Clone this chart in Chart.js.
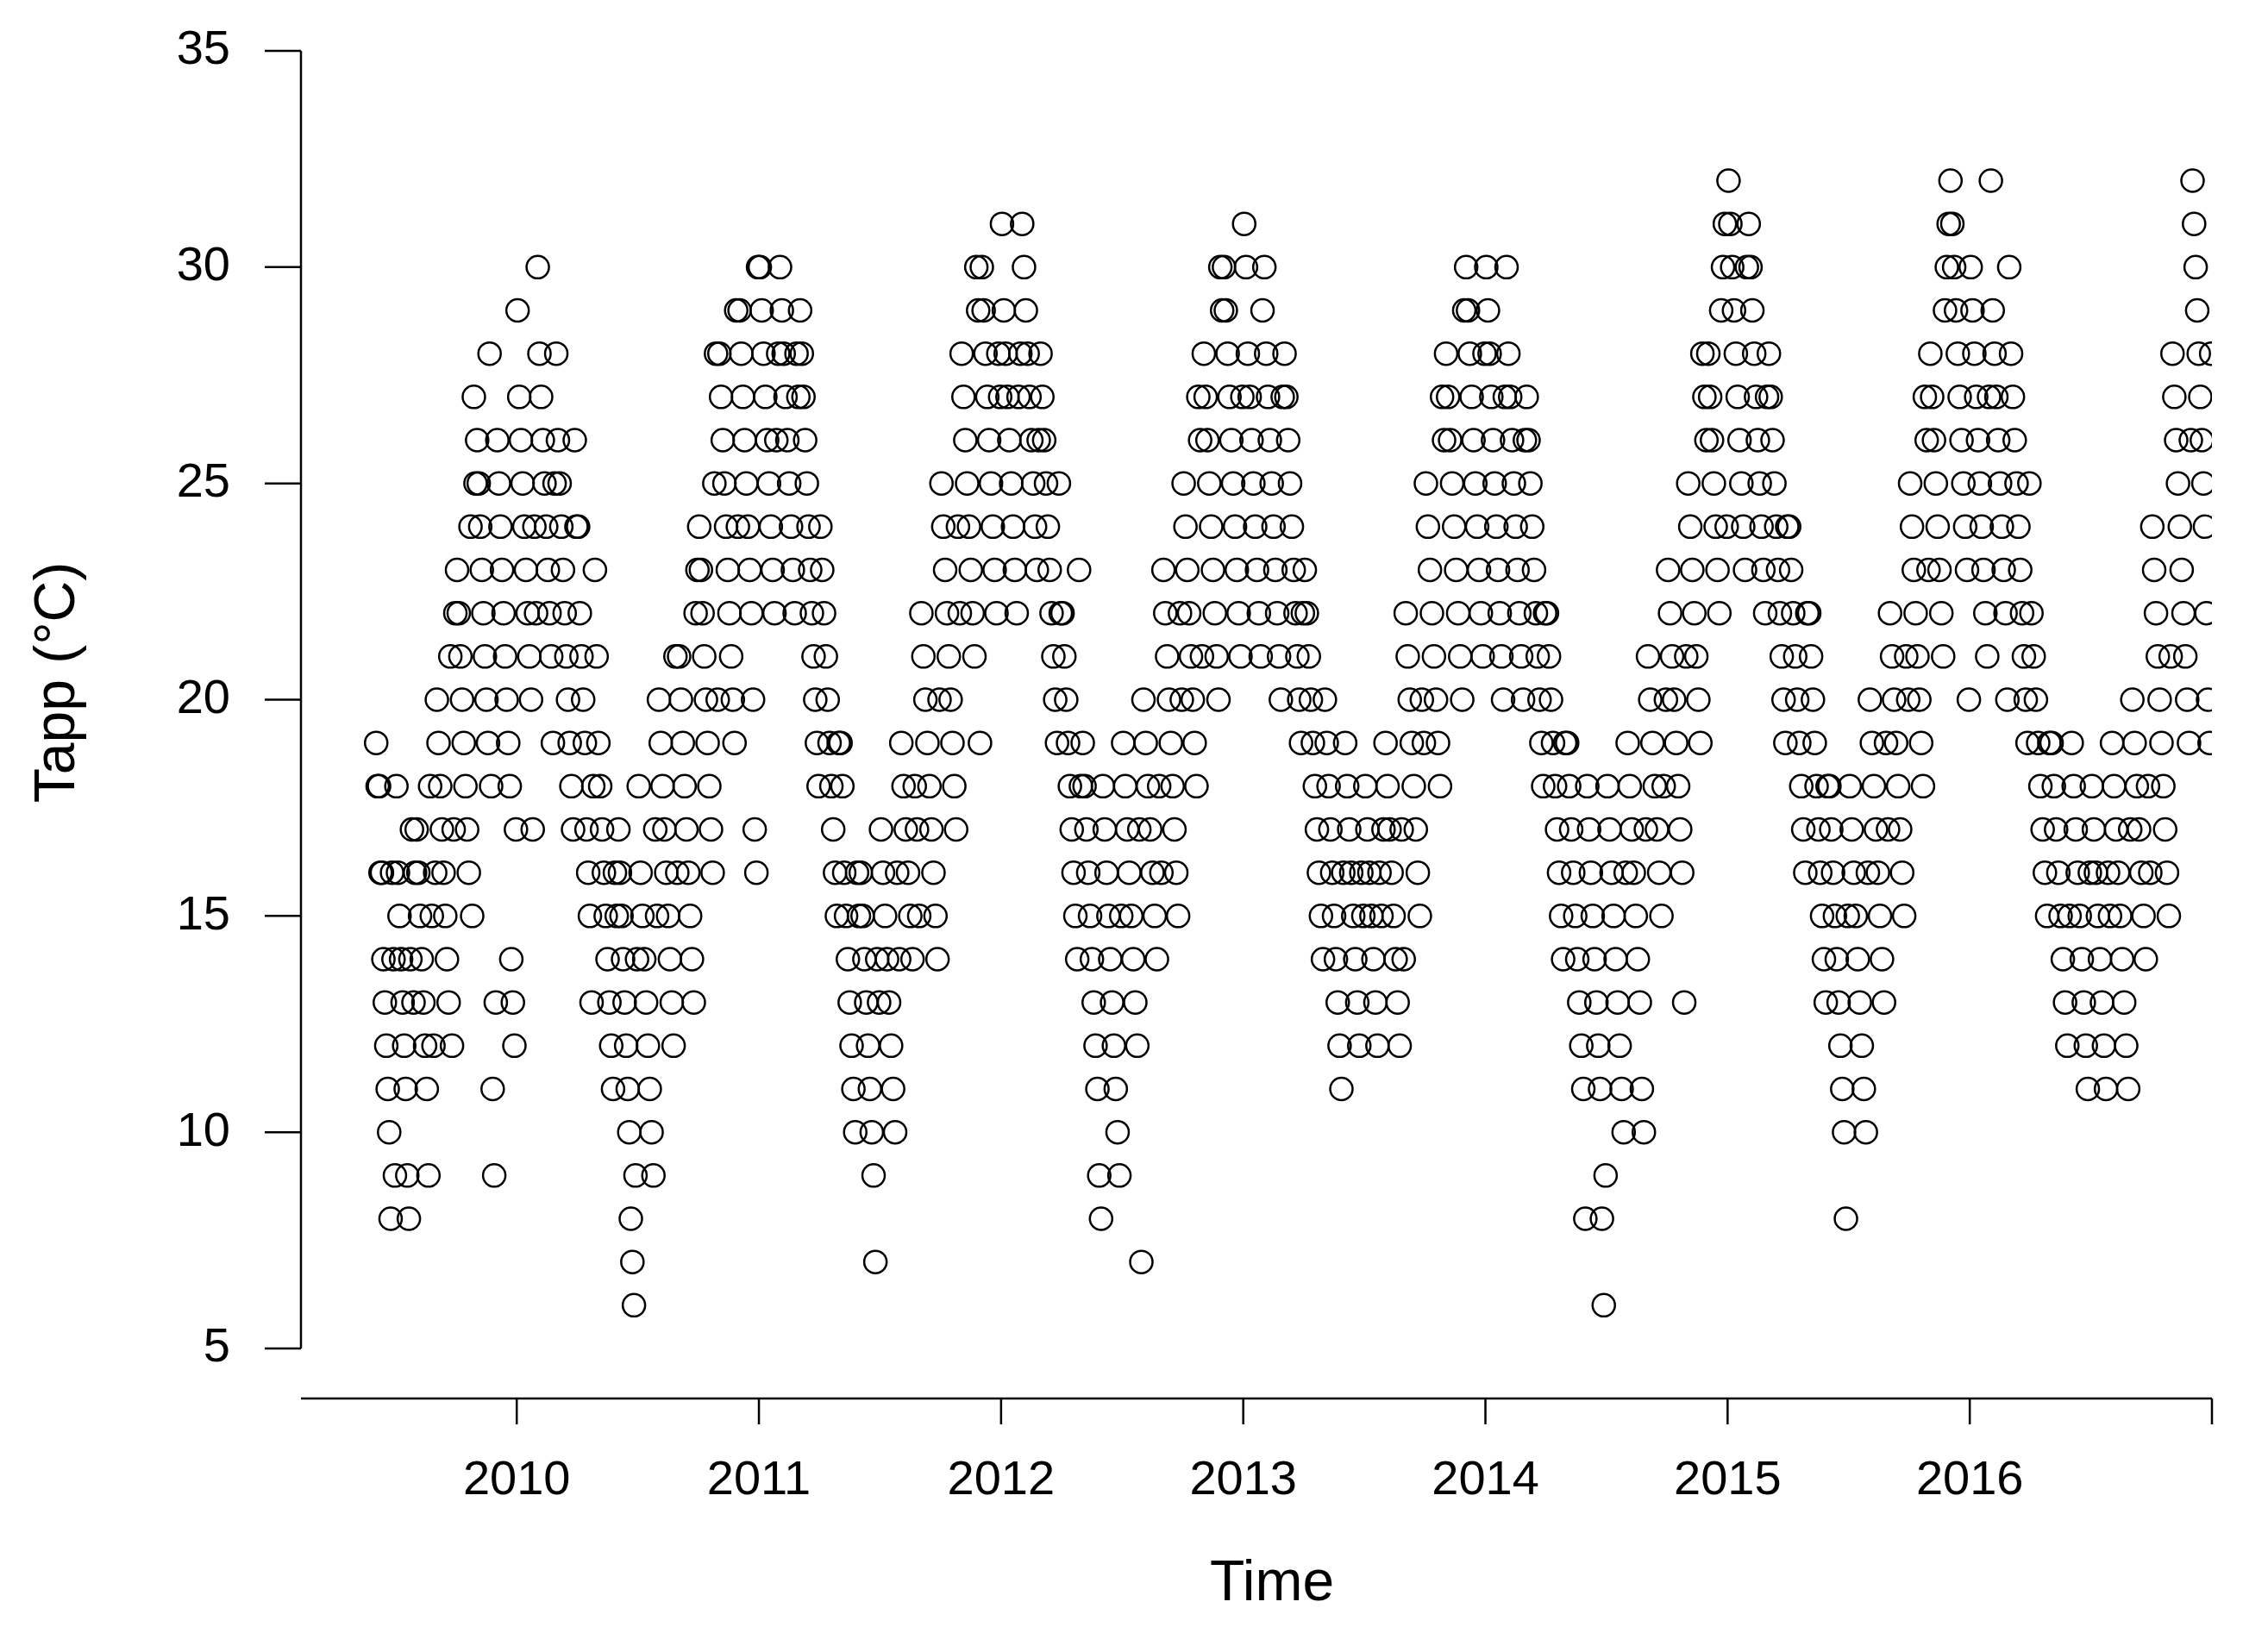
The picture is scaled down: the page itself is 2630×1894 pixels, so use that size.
<!DOCTYPE html>
<html><head><meta charset="utf-8">
<script src="https://cdn.jsdelivr.net/npm/chart.js@4/dist/chart.umd.min.js"></script>
<style>html,body{margin:0;padding:0;background:#fff}#c{display:block}</style>
</head><body>
<div style="width:2630px;height:1894px"><canvas id="c" width="2630" height="1894"></canvas></div>
<script>
// Observed Tapp values (°C), one string per month Jan..Dec ("" = no data)
const tapp2009 = ["","","","","",
"19 18 18 16 16 14 13 12 11 10 8 16 14 9",
"18 16 15 14 13 12 11 9 8 14 17 13 16",
"17 16 15 14 13 12 11 9 18 15 12 16",
"20 19 18 17 16 15 14 13 21 12 17 22",
"23 22 21 20 19 18 17 16 24 15 27 25",
"26 25 24 23 22 21 20 19 28 18 11 9 13",
"26 25 24 23 22 21 20 19 18 14 13 12 17"];
const tapp2010 = [
"29 27 26 25 24 23 22 21 20 17 24 22",
"30 28 27 26 25 24 23 22 21 19 25 28",
"26 25 24 23 22 21 20 19 18 17 26 24",
"24 22 21 20 19 17 16 15 13 18 23 21",
"19 18 17 16 15 14 13 12 11 16 15",
"17 16 15 14 13 12 11 10 8 7 6 9 14",
"18 16 15 14 13 12 11 10 9 17 15",
"20 19 18 17 16 15 14 13 12 21 16",
"21 20 19 18 17 16 15 14 13 22 23",
"24 23 22 21 20 19 18 17 16 25 28 20",
"28 27 26 25 24 23 22 21 20 19 29 24",
"29 28 27 26 25 24 23 22 20 17 16 30"];
const tapp2011 = [
"30 29 28 27 26 25 24 23 22 26 28",
"30 29 28 27 26 25 24 23 22 28 27",
"29 28 27 26 25 24 23 22 21 20 19 18",
"24 23 22 21 20 19 18 17 16 15 19",
"19 18 16 15 14 13 12 11 10 16 15",
"16 15 14 13 12 11 10 9 7 14 13",
"17 16 15 14 13 12 11 10 16 14",
"19 18 17 16 15 14 18 17 15",
"22 21 20 19 18 17 16 15 14 20",
"25 24 23 22 21 20 19 18 17 24 22",
"28 27 26 25 24 23 22 21 30 29 19",
"30 29 28 27 26 25 24 23 22 28 27"];
const tapp2012 = [
"31 29 28 27 26 25 24 23 22 27 28",
"31 30 29 28 27 26 25 24 23 26 28",
"27 26 25 24 23 22 21 20 19 25 22",
"22 21 20 19 18 17 16 15 14 23 18",
"19 18 17 16 15 14 13 12 11 9 8",
"18 17 16 15 14 13 12 11 10 9 15",
"19 18 17 16 15 14 13 12 17 7",
"20 19 18 17 16 15 14 18 16",
"23 22 21 20 19 18 17 16 15 22 20",
"25 24 23 22 21 20 19 18 27 26 21",
"28 27 26 25 24 23 22 21 20 30 29",
"30 29 28 27 26 25 24 23 22 21 27"];
const tapp2013 = [
"31 30 28 27 26 25 24 23 22 21 29",
"30 28 27 26 25 24 23 22 21 20 27",
"28 27 26 25 24 23 22 21 20 19 22",
"23 22 21 20 19 18 17 16 15 14",
"20 19 18 17 16 15 14 13 12 11 16",
"19 18 17 16 15 14 13 12 16 15",
"18 17 16 15 14 13 12 16 15 17",
"19 18 17 16 15 14 13 12 17 14",
"22 21 20 19 18 17 16 15 20 19",
"25 24 23 22 21 20 19 18 27 26",
"28 27 26 25 24 23 22 21 20 29",
"30 29 28 27 26 25 24 23 22 21 28"];
const tapp2014 = [
"30 29 28 27 26 25 24 23 22 21 20 27",
"30 28 27 26 25 24 23 22 21 20 26",
"27 26 25 24 23 22 21 20 19 18 22",
"22 21 20 19 18 17 16 15 14 19",
"19 18 17 16 15 14 13 12 11 8",
"18 17 16 15 14 13 12 11 8 6 9",
"18 17 16 15 14 13 12 11 10 16",
"19 18 17 16 15 14 13 11 10 17",
"21 20 19 18 17 16 15 18 20",
"23 22 21 20 19 18 17 16 13 21",
"25 24 23 22 21 20 19 28 27 26",
"28 27 26 25 24 23 22 29 30 31 24"];
const tapp2015 = [
"32 31 30 29 28 27 26 25 24 23 30",
"31 30 29 28 27 26 25 24 23 22 27",
"28 27 26 25 24 23 22 21 20 19 24",
"24 23 22 21 20 19 18 17 16 22",
"22 21 20 19 18 17 16 15 14 13 18",
"18 17 16 15 14 13 12 11 10 8 15",
"18 17 16 15 14 13 12 11 10 16",
"20 19 18 17 16 15 14 13 19 17",
"22 21 20 19 18 17 16 15 21 20",
"25 24 23 22 21 20 19 18 27 26 23",
"28 27 26 25 24 23 22 21 29 30 31",
"32 31 30 29 28 27 26 25 24 23 20"];
const tapp2016 = [
"30 29 28 27 26 25 24 23 22 21 27",
"32 29 28 27 26 25 24 23 22 20 30",
"28 27 26 25 24 23 22 21 20 19 25",
"22 21 20 19 18 17 16 15 19",
"19 18 17 16 15 14 13 12 15",
"19 18 17 16 15 14 13 12 11 16",
"18 17 16 15 14 13 12 11 16 15",
"19 18 17 16 15 14 13 12 11 17",
"20 19 18 17 16 15 14 18 16",
"24 23 22 21 20 19 18 17 16 15 21",
"28 27 26 25 24 23 22 21 20 19 26",
"32 31 30 29 28 27 26 25 24 22 20 19 28"];
const years = [2009, 2010, 2011, 2012, 2013, 2014, 2015, 2016];
const yearData = [tapp2009, tapp2010, tapp2011, tapp2012, tapp2013, tapp2014, tapp2015, tapp2016];
const xTicks = [2010, 2011, 2012, 2013, 2014, 2015, 2016, 2017];
const xTickLabels = ["2010", "2011", "2012", "2013", "2014", "2015", "2016", ""];
const yTicks = [5, 10, 15, 20, 25, 30, 35];

const pts = [];
yearData.forEach((months, yi) => {
  months.forEach((s, m) => {
    if (!s) return;
    const vals = s.split(/\s+/).map(Number);
    vals.forEach((v, i) => pts.push({x: years[yi] + (m + (i + 0.5) / vals.length) / 12, y: v}));
  });
});

const FONT = '"Liberation Sans", Arial, sans-serif';
const axesPlugin = {
  id: 'rAxes',
  afterDraw(chart) {
    const {ctx, chartArea: ca, scales: {x, y}} = chart;
    ctx.save();
    ctx.strokeStyle = '#000'; ctx.lineWidth = 2.5; ctx.fillStyle = '#000';
    ctx.beginPath();
    ctx.moveTo(ca.left, y.getPixelForValue(35)); ctx.lineTo(ca.left, y.getPixelForValue(5));
    yTicks.forEach(t => { const py = y.getPixelForValue(t); ctx.moveTo(ca.left - 42, py); ctx.lineTo(ca.left, py); });
    ctx.stroke();
    ctx.font = '56px ' + FONT; ctx.textAlign = 'right'; ctx.textBaseline = 'middle';
    yTicks.forEach(t => ctx.fillText(String(t), ca.left - 82, y.getPixelForValue(t)));
    const ay = ca.bottom + 58;
    ctx.beginPath();
    ctx.moveTo(ca.left, ay); ctx.lineTo(ca.right, ay);
    xTicks.forEach(t => { const px = x.getPixelForValue(t); ctx.moveTo(px, ay); ctx.lineTo(px, ay + 30); });
    ctx.stroke();
    ctx.textAlign = 'center';
    xTicks.forEach((t, i) => ctx.fillText(xTickLabels[i], x.getPixelForValue(t), ay + 96));
    ctx.font = '66px ' + FONT;
    ctx.fillText('Time', (ca.left + ca.right) / 2 + 18, ay + 216);
    ctx.translate(68, (ca.top + ca.bottom) / 2 - 20); ctx.rotate(-Math.PI / 2);
    ctx.fillText('Tapp (°C)', 0, 0);
    ctx.restore();
  }
};

new Chart(document.getElementById('c'), {
  type: 'scatter',
  data: {datasets: [{data: pts, pointRadius: 13, pointBorderWidth: 2.5, borderColor: '#000', backgroundColor: 'rgba(0,0,0,0)', pointStyle: 'circle'}]},
  options: {
    responsive: false, animation: false, devicePixelRatio: 1,
    layout: {padding: {left: 349, top: 59, right: 65, bottom: 330}},
    plugins: {legend: {display: false}, tooltip: {enabled: false}},
    scales: {
      x: {type: 'linear', min: 2009.109, max: 2017, display: false},
      y: {type: 'linear', min: 5, max: 35, display: false}
    }
  },
  plugins: [axesPlugin]
});
</script>
</body></html>
